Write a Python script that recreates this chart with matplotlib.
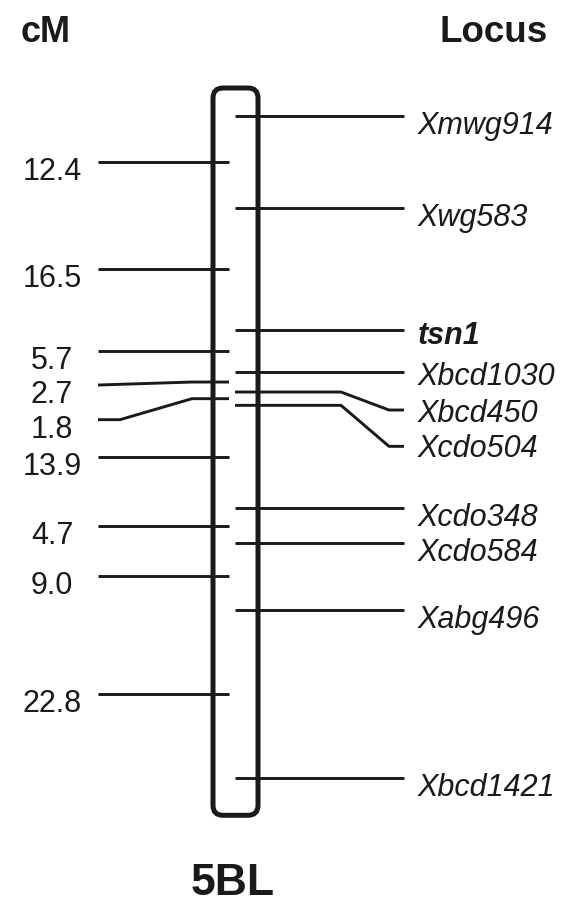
import matplotlib.pyplot as plt
from matplotlib.patches import FancyBboxPatch
import numpy as np

# genetic map of chromosome arm 5BL
loci = ['Xmwg914', 'Xwg583', 'tsn1', 'Xbcd1030', 'Xbcd450', 'Xcdo504',
        'Xcdo348', 'Xcdo584', 'Xabg496', 'Xbcd1421']
intervals = [12.4, 16.5, 5.7, 2.7, 1.8, 13.9, 4.7, 9.0, 22.8]  # cM between neighbours
interval_labels = ['12.4', '16.5', '5.7', '2.7', '1.8', '13.9', '4.7', '9.0', '22.8']
arm_name = '5BL'

plt.rcParams['font.family'] = ['Liberation Sans', 'DejaVu Sans']

W, H = 568, 909
PX_PER_CM = 7.4    # vertical scale of the drawing
TOP_PX = 116       # pixel row of the first locus

pos = np.concatenate([[0], np.cumsum(intervals)])   # locus positions, cM
mids = (pos[:-1] + pos[1:]) / 2                        # interval midpoints


def px(p):
    # pixel offset -> cM units
    return p / PX_PER_CM


fig = plt.figure(figsize=(W / 100, H / 100), dpi=100)
ax = fig.add_axes([0, 0, 1, 1])
ax.set_xlim(0, W)
ax.set_ylim(px(H - TOP_PX), px(-TOP_PX))
ax.axis('off')

ink = '#1a1a1a'
lw = 2.1
fs = 22

# chromosome
chrom = FancyBboxPatch((213, pos[0] - px(28)), 45, pos[-1] - pos[0] + px(28 + 37),
                       boxstyle='round,pad=0,rounding_size=10',
                       mutation_aspect=1 / PX_PER_CM,
                       fc='white', ec=ink, lw=3.6, zorder=3)
ax.add_patch(chrom)

# left side: interval lengths (some labels pushed down to avoid crowding)
left_shift = {'2.7': 3, '1.8': 21}
for lab, m in zip(interval_labels, mids):
    s = px(left_shift.get(lab, 0))
    if lab == '1.8':
        xs, ys = [98, 120, 192, 229], [m + s, m + s, m, m]
    elif s:
        xs, ys = [98, 192, 229], [m + s, m, m]
    else:
        xs, ys = [98, 229], [m, m]
    ax.plot(xs, ys, color=ink, lw=lw, solid_capstyle='butt', zorder=4)
    ax.text(52, m + s + px(18), lab, ha='center', va='baseline', fontsize=fs,
            color=ink)

# right side: loci
right_shift = {'Xbcd450': 18, 'Xcdo504': 41}
base_off = {'tsn1': 14, 'Xbcd1030': 13, 'Xbcd450': 12, 'Xcdo504': 11}
for name, p in zip(loci, pos):
    s = px(right_shift.get(name, 0))
    if s:
        xs, ys = [235, 341, 389, 404], [p, p, p + s, p + s]
    else:
        xs, ys = [235, 404], [p, p]
    ax.plot(xs, ys, color=ink, lw=lw, solid_capstyle='butt', zorder=4)
    bold = name == 'tsn1'
    ax.text(418, p + s + px(base_off.get(name, 18)), name, ha='left', va='baseline',
            fontsize=fs, style='italic', fontweight='bold' if bold else 'normal',
            color=ink)

# headings
ax.text(46, px(33 - TOP_PX), 'cM', ha='center', va='center', fontsize=26,
        fontweight='bold', color=ink)
ax.text(494, px(33 - TOP_PX), 'Locus', ha='center', va='center', fontsize=26.5,
        fontweight='bold', color=ink)
ax.text(233, px(884 - TOP_PX), arm_name, ha='center', va='center', fontsize=32,
        fontweight='bold', color=ink)

fig.savefig('out.png', dpi=100)
